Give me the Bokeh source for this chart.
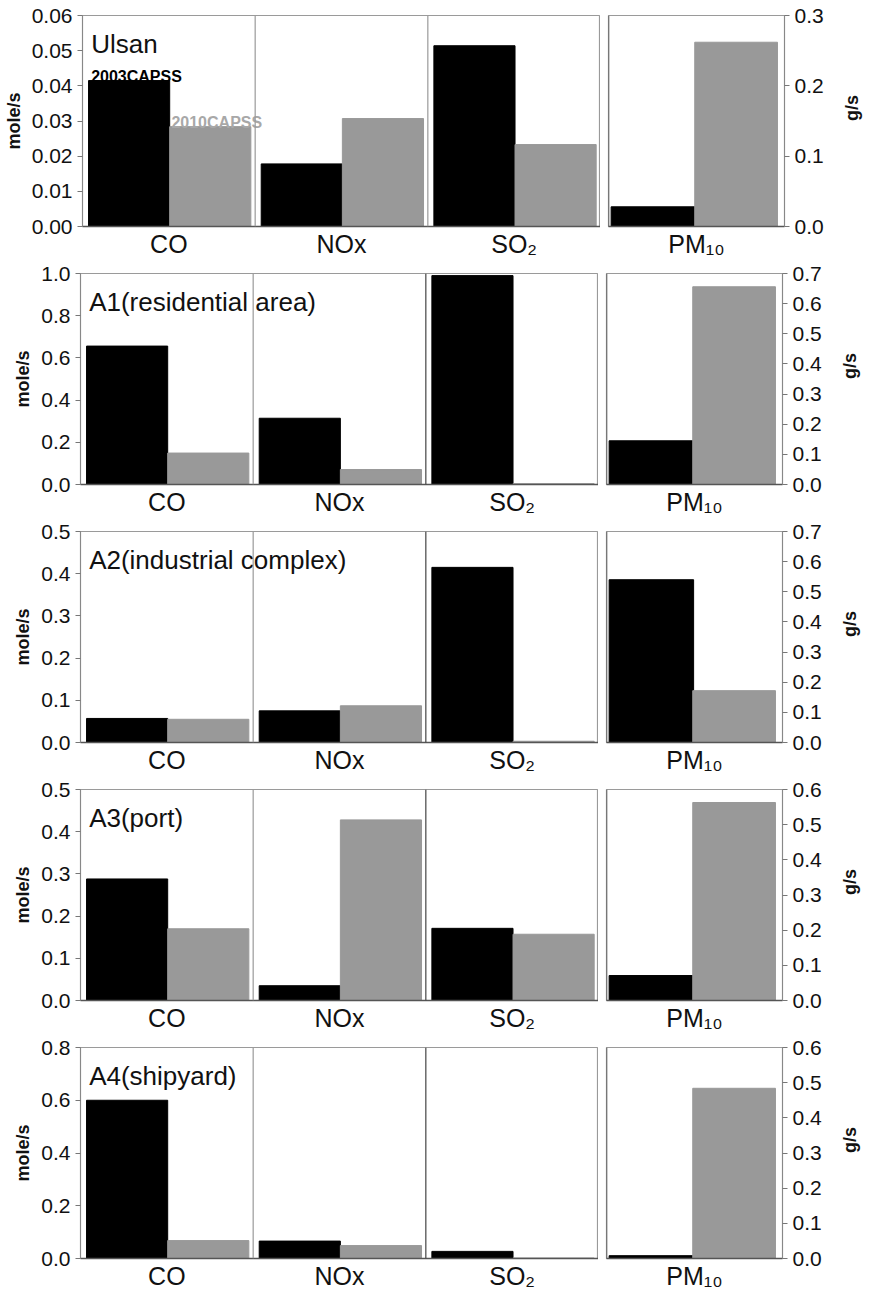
import math
from bokeh.plotting import figure
from bokeh.layouts import column, row
from bokeh.models import Range1d, FixedTicker, NumeralTickFormatter, Span
from bokeh.core.properties import value
from bokeh.embed import file_html
from bokeh.resources import INLINE

# ---------------- data ----------------
sites = ["Ulsan", "A1(residential area)", "A2(industrial complex)", "A3(port)", "A4(shipyard)"]
gases = ["CO", "NOx", "SO\u2082"]
pm_label = "PM\u2081\u2080"
series_names = ["2003CAPSS", "2010CAPSS"]

gas_2003 = [
    [0.0415, 0.0178, 0.0514],
    [0.656, 0.314, 0.990],
    [0.057, 0.075, 0.415],
    [0.288, 0.035, 0.171],
    [0.600, 0.066, 0.027],
]
gas_2010 = [
    [0.0284, 0.0307, 0.0233],
    [0.149, 0.071, 0.004],
    [0.055, 0.087, 0.003],
    [0.170, 0.428, 0.157],
    [0.068, 0.049, 0.002],
]
pm_2003 = [0.028, 0.145, 0.540, 0.071, 0.008]
pm_2010 = [0.262, 0.656, 0.172, 0.563, 0.484]

gas_ticks = [
    [0.0, 0.01, 0.02, 0.03, 0.04, 0.05, 0.06],
    [0.0, 0.2, 0.4, 0.6, 0.8, 1.0],
    [0.0, 0.1, 0.2, 0.3, 0.4, 0.5],
    [0.0, 0.1, 0.2, 0.3, 0.4, 0.5],
    [0.0, 0.2, 0.4, 0.6, 0.8],
]
gas_formats = ["0.00", "0.0", "0.0", "0.0", "0.0"]
pm_ticks = [
    [0.0, 0.1, 0.2, 0.3],
    [0.0, 0.1, 0.2, 0.3, 0.4, 0.5, 0.6, 0.7],
    [0.0, 0.1, 0.2, 0.3, 0.4, 0.5, 0.6, 0.7],
    [0.0, 0.1, 0.2, 0.3, 0.4, 0.5, 0.6],
    [0.0, 0.1, 0.2, 0.3, 0.4, 0.5, 0.6],
]

# ---------------- style ----------------
FONT = "Liberation Sans"
BLACK = "#000000"
GRAY = "#999999"
TXT = "#111111"
FRAME_H = 211
LEFT_W = 518
RIGHT_W = 176
LEFT_B = 80
MID_B = 8
RIGHT_B = 78
BOTTOM_B = 35


def style_panel(p, labels, ticks, fmt, ylabel, standoff):
    p.xgrid.grid_line_color = None
    p.ygrid.grid_line_color = None
    p.outline_line_color = "#9a9a9a"
    p.outline_line_width = 1.2
    p.background_fill_color = "white"
    p.border_fill_color = "white"

    xa = p.xaxis[0]
    xa.ticker = FixedTicker(ticks=[i + 0.5 for i in range(len(labels))])
    xa.major_label_overrides = {i + 0.5: lab for i, lab in enumerate(labels)}
    xa.major_tick_in = 0
    xa.major_tick_out = 0
    xa.major_tick_line_color = None
    xa.minor_tick_line_color = None
    xa.axis_line_color = "#555555"
    xa.axis_line_width = 1.5
    xa.major_label_text_font = FONT
    xa.major_label_text_font_size = "25px"
    xa.major_label_text_color = TXT
    xa.major_label_standoff = 3

    ya = p.yaxis[0]
    ya.ticker = FixedTicker(ticks=ticks)
    ya.formatter = NumeralTickFormatter(format=fmt)
    ya.minor_tick_line_color = None
    ya.major_tick_in = 0
    ya.major_tick_out = 5
    ya.major_tick_line_color = "#777777"
    ya.axis_line_color = "#888888"
    ya.major_label_text_font = FONT
    ya.major_label_text_font_size = "21px"
    ya.major_label_text_color = TXT
    ya.major_label_standoff = 5
    ya.axis_label = ylabel
    ya.axis_label_text_font = FONT
    ya.axis_label_text_font_size = "18px"
    ya.axis_label_text_font_style = "bold"
    ya.axis_label_text_color = TXT
    ya.axis_label_standoff = standoff


rows = []
n = len(sites)
for r in range(n):
    gmax = gas_ticks[r][-1]
    pmax = pm_ticks[r][-1]
    top_border = 15 if r == 0 else 12

    # ---- left panel: gases (mole/s) ----
    pl = figure(frame_width=LEFT_W, frame_height=FRAME_H,
                x_range=Range1d(0, len(gases)), y_range=Range1d(0, gmax),
                min_border_left=LEFT_B, min_border_right=0,
                min_border_top=top_border, min_border_bottom=BOTTOM_B,
                toolbar_location=None, output_backend="svg")
    xs = list(range(len(gases)))
    pl.vbar(x=[i + 0.27 for i in xs], top=gas_2003[r], width=0.47,
            fill_color=BLACK, line_color=BLACK)
    pl.vbar(x=[i + 0.74 for i in xs], top=gas_2010[r], width=0.47,
            fill_color=GRAY, line_color=GRAY)
    for i in range(1, len(gases)):
        sep_col = "#9a9a9a" if (r == 0 or i == 1) else "#444444"
        pl.add_layout(Span(location=i, dimension="height",
                           line_color=sep_col, line_width=1.2))
    style_panel(pl, gases, gas_ticks[r], gas_formats[r], "mole/s", 5)

    # site title
    pl.text(x=[0.05], y=[gmax * (1 - 28.0 / FRAME_H)], text=[sites[r]],
            text_font=value(FONT), text_font_size="26px",
            text_color=TXT, text_baseline="alphabetic", text_align="left")

    if r == 0:
        pad = gmax * 4.0 / FRAME_H
        pl.text(x=[0.05], y=[gas_2003[r][0] + pad], text=[series_names[0]],
                text_font=value(FONT), text_font_size="16px", text_font_style="bold",
                text_color=BLACK, text_baseline="alphabetic", text_align="left")
        pl.text(x=[0.515], y=[gas_2010[r][0] + pad], text=[series_names[1]],
                text_font=value(FONT), text_font_size="16px", text_font_style="bold",
                text_color="#a8a8a8", text_baseline="alphabetic", text_align="left")

    # ---- right panel: PM10 (g/s) ----
    pr = figure(frame_width=RIGHT_W, frame_height=FRAME_H,
                x_range=Range1d(0, 1), y_range=Range1d(0, pmax),
                y_axis_location="right",
                min_border_left=MID_B, min_border_right=RIGHT_B,
                min_border_top=top_border, min_border_bottom=BOTTOM_B,
                toolbar_location=None, output_backend="svg")
    pr.vbar(x=[0.255], top=[pm_2003[r]], width=0.48,
            fill_color=BLACK, line_color=BLACK)
    pr.vbar(x=[0.725], top=[pm_2010[r]], width=0.47,
            fill_color=GRAY, line_color=GRAY)
    style_panel(pr, [pm_label], pm_ticks[r], "0.0", "g/s", 25)
    pr.yaxis[0].axis_label_orientation = math.pi / 2
    pr.add_layout(Span(location=0, dimension="height",
                       line_color="#555555", line_width=1.5))

    rows.append(row(pl, pr))

layout = column(*rows)

with open("out.html", "w") as f:
    f.write(file_html(layout, INLINE))
